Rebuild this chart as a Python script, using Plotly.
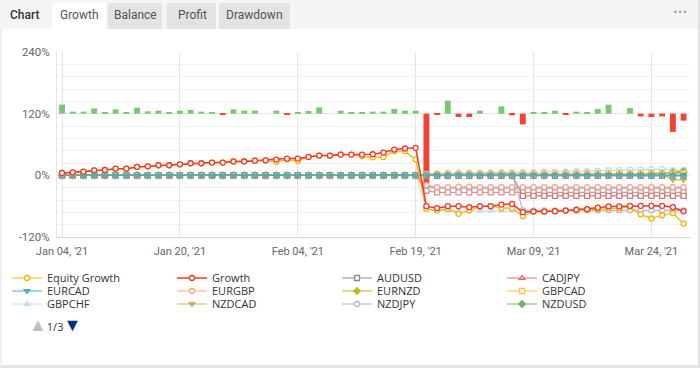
import plotly.graph_objects as go

# ---------------- data ----------------
dates = ["2021-01-04", "2021-01-05", "2021-01-06", "2021-01-07", "2021-01-08",
         "2021-01-11", "2021-01-12", "2021-01-13", "2021-01-14", "2021-01-15",
         "2021-01-19", "2021-01-20", "2021-01-21", "2021-01-22",
         "2021-01-25", "2021-01-26", "2021-01-27", "2021-01-28", "2021-01-29",
         "2021-02-01", "2021-02-02", "2021-02-03", "2021-02-04", "2021-02-05",
         "2021-02-08", "2021-02-09", "2021-02-10", "2021-02-11", "2021-02-12",
         "2021-02-15", "2021-02-16", "2021-02-17", "2021-02-18", "2021-02-19",
         "2021-02-22", "2021-02-23", "2021-02-24", "2021-02-25", "2021-02-26",
         "2021-03-02", "2021-03-03", "2021-03-04", "2021-03-05",
         "2021-03-08", "2021-03-09", "2021-03-10", "2021-03-11", "2021-03-12",
         "2021-03-15", "2021-03-16", "2021-03-17", "2021-03-18", "2021-03-19",
         "2021-03-22", "2021-03-23", "2021-03-24", "2021-03-25", "2021-03-26", "2021-03-29"]

tick_dates = ["2021-01-04", "2021-01-20", "2021-02-04", "2021-02-19", "2021-03-09", "2021-03-24"]
tick_labels = ["Jan 04, '21", "Jan 20, '21", "Feb 04, '21", "Feb 19, '21", "Mar 09, '21", "Mar 24, '21"]

y_ticks = [-120, 0, 120, 240]
y_tick_labels = ["-120%", "0%", "120%", "240%"]

growth = [4.6, 5.9, 7.2, 9.8, 10.4, 13.0, 13.0, 16.3, 17.6, 19.6,
          19.6, 21.5, 23.5, 23.5, 24.8, 24.8, 27.0, 27.0, 28.6, 29.0,
          30.6, 32.6, 32.6, 35.9, 38.5, 38.5, 40.4, 40.4, 40.4, 41.0,
          44.3, 50.2, 52.2, 53.5, -60.0, -64.0, -60.0, -60.0, -62.0, -60.0,
          -60.0, -57.0, -55.5, -71.7, -70.5, -70.5, -69.8, -68.5, -67.0, -65.9,
          -63.0, -60.6, -60.6, -59.4, -59.4, -59.4, -59.4, -62.0, -69.8]

equity_growth = [4.0, 5.0, 7.0, 9.5, 10.4, 13.0, 13.0, 16.3, 17.6, 19.6,
                 19.6, 21.5, 23.5, 23.5, 24.8, 24.8, 27.0, 27.7, 28.6, 29.0,
                 26.0, 30.6, 28.0, 35.9, 38.5, 38.5, 40.4, 40.4, 37.0, 35.0,
                 35.9, 47.0, 47.0, 31.0, -65.0, -68.5, -65.0, -75.0, -68.5, -61.0,
                 -60.0, -64.0, -64.0, -79.6, -70.5, -70.5, -69.8, -68.5, -68.5, -67.0,
                 -66.0, -64.0, -64.0, -61.0, -76.0, -84.0, -77.7, -73.8, -94.0]

daily_change = [1.75, 0.39, 0.39, 1.03, 0.19, 0.84, 0.19, 1.17, 0.45, 0.58,
                0.19, 0.58, 0.72, 0.39, 0.19, -0.14, 0.84, 0.58, 0.58, 0.0,
                0.58, -0.14, 0.19, 0.53, 1.23, 0.0, 0.58, 0.19, 0.19, 0.39,
                0.39, 0.91, 0.58, 0.58, -13.48, -0.25, 2.53, -0.64, -0.64, 0.58,
                0.0, 1.42, -0.33, -2.08, 0.33, 0.19, 0.58, -0.14, 0.39, 0.19,
                0.91, 1.75, 0.0, 1.11, -0.53, -0.64, -0.53, -3.56, -1.36]

audusd = [0, 0, 0, 0, 0, 0, 0, 0, 0, 0, 0, 0, 0, 0, 0, 0, 0, 0, 0, 0,
          0, 0, 0, 0, 0, 0, 0, 0, 0, 0, 0, 0, 0, 0, 0, -1, -1, -1, -1, -1,
          -1, -1, -1, -1, -1, -1, -1, -1, -1, -1, -1, -1, -1, -1, -1, -1, -1, -1, -1]
cadjpy = [0, 0, 0, 0, 0, 0, 0, 0, 0, 0, 0, 0, 0, 0, 0, 0, 0, 0, 0, 0,
          0, 0, 0, 0, 0, 0, 0, 0, 0, 0, 0, 0, 0, 0, 1, 1, 1, 1, 1, 1,
          1, 1, 1, 1, 1, 1, 1, 1, 1, 1, 1, 1, 1, 1, 1, 1, 1, 1, 0]
eurcad = [0, 0, 0, 0, 0, 0, 0, 0, 0, 0, 0, 0, 0, 0, 0, 0, 0, 0, 0, 0,
          0, 0, 0, 0, 0, 0, 0, 0, 0, 0, 0, 0, 0, 0, 0, 0, 0, 0, 0, 0,
          0, 0, 0, 0, 0, 0, 0, 0, 0, 0, 0, 0, 0, 0, 0, 0, 0, 0, 0]
eurgbp = [0, 0, 0, 0, 0, 0, 0, 0, 0, 0, 0, 0, 0, 0, 0, 0, 0, 0, 0, 0,
          0, 0, 0, 0, 0, 0, 0, 0, 0, 0, 0, 0, 0, 0, -19, -23, -23, -22, -22, -23,
          -23, -23, -23, -23, -23, -23, -23, -23, -23, -23, -23, -23, -23, -23, -23, -23, -23, -23, -23]
eurnzd = [0, 0, 0, 0, 0, 0, 0, 0, 0, 0, 0, 0, 0, 0, 0, 0, 0, 0, 0, 0,
          0, 0, 0, 0, 0, 0, 0, 0, 0, 0, 0, 0, 0, 0, 1, 1, 1, 1, 1, 1,
          2, 2, 2, 2, 2, 2, 2, 3, 3, 3, 3, 3, 3, 3, 3, 4, 4, 5, 6]
gbpcad = [0, 0, 0, 0, 0, 0, 0, 0, 0, 0, 0, 0, 0, 0, 0, 0, 0, 0, 0, 0,
          0, 0, 0, 0, 0, 0, 0, 0, 0, 0, 0, 0, 0, 0, 2, 2, 2, 2, 2, 2,
          3, 3, 3, 3, 3, 3, 3, 3, 3, 3, 3, 3, 3, 3, 3, 3, 3, 3, 4]
gbpchf = [0, 0, 0, 0, 0, 0, 0, 0, 0, 0, 0, 0, 0, 0, 0, 0, 0, 0, 0, 0,
          0, 0, 0, 0, 0, 0, 0, 0, 0, 0, 0, 0, 0, 0, -66, -69, -69, -69, -69, -69,
          -69, -69, -69, -69, -69, -69, -69, -69, -69, -69, -69, -69, -69, -69, -69, -69, -69, -69, -69]
nzdcad = [0, 0, 0, 0, 0, 0, 0, 0, 0, 0, 0, 0, 0, 0, 0, 0, 0, 0, 0, 0,
          0, 0, 0, 0, 0, 0, 0, 0, 0, 0, 0, 0, 0, 0, 1, 1, 1, 1, 1, 1,
          1, 1, 1, 1, 1, 1, 1, 1, 1, 1, 1, 1, 1, 1, 1, 1, 1, -9, -9]
nzdjpy = [0, 0, 0, 0, 0, 0, 0, 0, 0, 0, 0, 0, 0, 0, 0, 0, 0, 0, 0, 0,
          0, 0, 0, 0, 0, 0, 0, 0, 0, 0, 0, 0, 0, 0, 2, 3, 3, 3, 4, 4,
          4, 4, 4, -68, -68, -68, -68, -68, -68, -68, -68, -68, -68, -68, -68, -68, -68, -68, -68]
nzdusd = [0, 0, 0, 0, 0, 0, 0, 0, 0, 0, 0, 0, 0, 0, 0, 0, 0, 0, 0, 0,
          0, 0, 0, 0, 0, 0, 0, 0, 0, 0, 0, 0, 0, 0, 0, 0, 0, 0, 0, 0,
          0, 0, 0, 0, 0, 0, 0, 1, 1, 1, 2, 2, 3, 3, 3, 4, 4, 6, 8]
# series on legend pages 2 and 3 (names not visible in the picture)
other_a = [0, 0, 0, 0, 0, 0, 0, 0, 0, 0, 0, 0, 0, 0, 0, 0, 0, 0, 0, 0,
           0, 0, 0, 0, 0, 0, 0, 0, 0, 0, 0, 0, 0, 0, -30, -33, -33, -33, -33, -33,
           -33, -33, -33, -33, -33, -33, -33, -33, -33, -33, -33, -33, -33, -33, -33, -33, -33, -33, -33]
other_b = [0, 0, 0, 0, 0, 0, 0, 0, 0, 0, 0, 0, 0, 0, 0, 0, 0, 0, 0, 0,
           0, 0, 0, 0, 0, 0, 0, 0, 0, 0, 0, 0, 0, 0, 0, 0, 0, 0, 0, 0,
           0, 0, 0, -40, -40, -40, -40, -40, -40, -40, -40, -40, -40, -40, -40, -40, -40, -40, -40]
other_c = [0, 0, 0, 0, 0, 0, 0, 0, 0, 0, 0, 0, 0, 0, 0, 0, 0, 0, 0, 0,
           0, 0, 0, 0, 0, 0, 0, 0, 0, 0, 0, 0, 0, 0, -22, -25, -25, -25, -25, -25,
           -25, -25, -25, -25, -25, -25, -25, -25, -25, -25, -25, -25, -25, -25, -25, -25, -25, -25, -25]
other_d = [0, 0, 0, 0, 0, 0, 0, 0, 0, 0, 0, 0, 0, 0, 0, 0, 0, 0, 0, 0,
           0, 0, 0, 0, 0, 0, 0, 0, 0, 0, 0, 0, 0, 0, 3, 4, 5, 5, 5, 5,
           5, 6, 6, 6, 6, 7, 7, 7, 8, 8, 9, 10, 10, 11, 11, 12, 12, 10, 10]

# ---------------- layout helpers ----------------
W, H = 700, 368
PL, PR, PT, PB = 57, 690, 52, 237


def fx(px):
    return (px - PL) / (PR - PL)


def fy(py):
    return (PB - py) / (PB - PT)


fig = go.Figure()

# daily bars (behind lines)
bar_colors = ["#7cc576" if v >= 0 else "#f44336" for v in daily_change]
fig.add_trace(go.Bar(x=dates, y=daily_change, marker=dict(color=bar_colors, line=dict(width=0)),
                     width=0.55, showlegend=False, name="Daily", yaxis="y", hoverinfo="skip"))


def line(name, vals, color, symbol, legend, rank, filled=False, show=True, width=1.2, size=5):
    fig.add_trace(go.Scatter(
        x=dates, y=vals, name=name, mode="lines+markers", yaxis="y2",
        line=dict(color=color, width=width),
        marker=dict(symbol=symbol, size=size,
                    color=color if filled else "white",
                    line=dict(color=color, width=1.3)),
        showlegend=show, legend=legend, legendrank=rank))


# hidden (pages 2/3) series
line("Other A", other_a, "#e58f8f", "square", "legend", 900, show=False)
line("Other B", other_b, "#c97b7b", "square", "legend", 901, show=False)
line("Other C", other_c, "#7fb2e0", "triangle-up", "legend", 902, filled=True, show=False)
line("Other D", other_d, "#bcdaf2", "circle", "legend", 903, show=False)

line("GBPCHF", gbpchf, "#c4ddf4", "triangle-up", "legend3", 1, filled=True)
line("NZDJPY", nzdjpy, "#b8b8cf", "circle", "legend3", 3)
line("EURGBP", eurgbp, "#f6a38b", "circle", "legend2", 2)
line("NZDUSD", nzdusd, "#6bb36b", "diamond", "legend3", 4, filled=True)
line("EURNZD", eurnzd, "#b5bf1a", "diamond", "legend2", 3, filled=True)
line("GBPCAD", gbpcad, "#f8c54a", "square", "legend2", 4)
line("NZDCAD", nzdcad, "#c8b35a", "triangle-down", "legend3", 2, filled=True)
line("CADJPY", cadjpy, "#e8686a", "triangle-up", "legend", 4)
line("AUDUSD", audusd, "#8c8c8c", "square", "legend", 3)
line("EURCAD", eurcad, "#4fb0b3", "triangle-down", "legend2", 1, filled=True)
line("Equity Growth", equity_growth, "#f5b400", "circle", "legend", 1)
line("Growth", growth, "#f0382b", "circle", "legend", 2, width=1.5)

# ---------------- decorations ----------------
shapes = []
# tab bar
shapes.append(dict(type="rect", xref="paper", yref="paper", x0=fx(0), x1=fx(700), y0=fy(29), y1=fy(0),
                   fillcolor="#f5f5f5", line=dict(width=0), layer="below"))
for x0, x1, col in [(52, 106, "#ffffff"), (108, 162, "#e3e3e3"), (167, 216, "#e3e3e3"), (219, 290, "#e3e3e3")]:
    shapes.append(dict(type="rect", xref="paper", yref="paper", x0=fx(x0), x1=fx(x1), y0=fy(29), y1=fy(3),
                       fillcolor=col, line=dict(width=0), layer="below"))
# frame
shapes.append(dict(type="line", xref="paper", yref="paper", x0=fx(699), x1=fx(699), y0=fy(366), y1=fy(0),
                   line=dict(color="#e2e2e2", width=2)))
shapes.append(dict(type="line", xref="paper", yref="paper", x0=fx(0), x1=fx(700), y0=fy(366.5), y1=fy(366.5),
                   line=dict(color="#e4e4e4", width=3)))
shapes.append(dict(type="line", xref="paper", yref="paper", x0=fx(1), x1=fx(1), y0=fy(366), y1=fy(29),
                   line=dict(color="#f0f0f0", width=2)))

annotations = []
tab_font = dict(family="Roboto", size=12, color="#555555")


def ann(text, cx, cy, font, xanchor="center"):
    annotations.append(dict(text=text, x=fx(cx), y=fy(cy), xref="paper", yref="paper", showarrow=False,
                            xanchor=xanchor, yanchor="middle", font=font))


ann("Chart", 25, 15, dict(family="Roboto", size=12, color="#333333", weight=500))
for label, cx in [("Growth", 79), ("Balance", 135), ("Profit", 192), ("Drawdown", 254)]:
    ann(label, cx, 15, tab_font)
ann("•••", 680, 13, dict(family="DejaVu Sans", size=8, color="#9a98a6"))
ann("<span style='color:#bdbdbd;font-size:18px'>▲</span>1/3"
    "<span style='color:#0b2a84;font-size:18px'>▼</span>",
    27, 324, dict(family="Open Sans", size=11, color="#333333"), xanchor="left")

leg_common = dict(orientation="h", entrywidth=120, entrywidthmode="pixels", xanchor="left", yanchor="middle",
                  bgcolor="rgba(0,0,0,0)", font=dict(family="Open Sans", size=11, color="#333333"),
                  traceorder="normal", itemclick=False, itemdoubleclick=False, borderwidth=0)
lx = fx(7)

fig.update_layout(
    width=W, height=H,
    margin=dict(l=PL, r=W - PR, t=PT, b=H - PB, autoexpand=False),
    paper_bgcolor="white", plot_bgcolor="white",
    xaxis=dict(type="category", range=[-0.47, 58.6], tickmode="array", tickvals=tick_dates,
               ticktext=tick_labels, showgrid=True, gridcolor="#e6e6e6", gridwidth=1,
               showline=True, linecolor="#ccd6eb", linewidth=1, ticks="",
               tickfont=dict(family="Roboto", size=11, color="#666666"), zeroline=False,
               ticklabelstandoff=4, automargin=False),
    yaxis=dict(range=[-24, 12], visible=False, showgrid=False, zeroline=False, fixedrange=True),
    yaxis2=dict(overlaying="y", side="left", range=[-120, 240], tickmode="array", tickvals=y_ticks,
                ticktext=y_tick_labels, showgrid=True, gridcolor="#e6e6e6", gridwidth=1,
                minor=dict(dtick=24, tick0=0, showgrid=True, gridcolor="#f3f3f3", gridwidth=1),
                zeroline=False, showline=True, linecolor="#e6e6e6", mirror=False,
                tickfont=dict(family="Roboto", size=11.5, color="#666666"), ticks="",
                ticklabelstandoff=4, automargin=False),
    legend=dict(x=lx, y=fy(278), **leg_common),
    legend2=dict(x=lx, y=fy(291), **leg_common),
    legend3=dict(x=lx, y=fy(304), **leg_common),
    shapes=shapes,
    annotations=annotations,
)

fig.write_html("out.html", config={"displayModeBar": False},
               post_script="document.body.style.margin='0px';")
